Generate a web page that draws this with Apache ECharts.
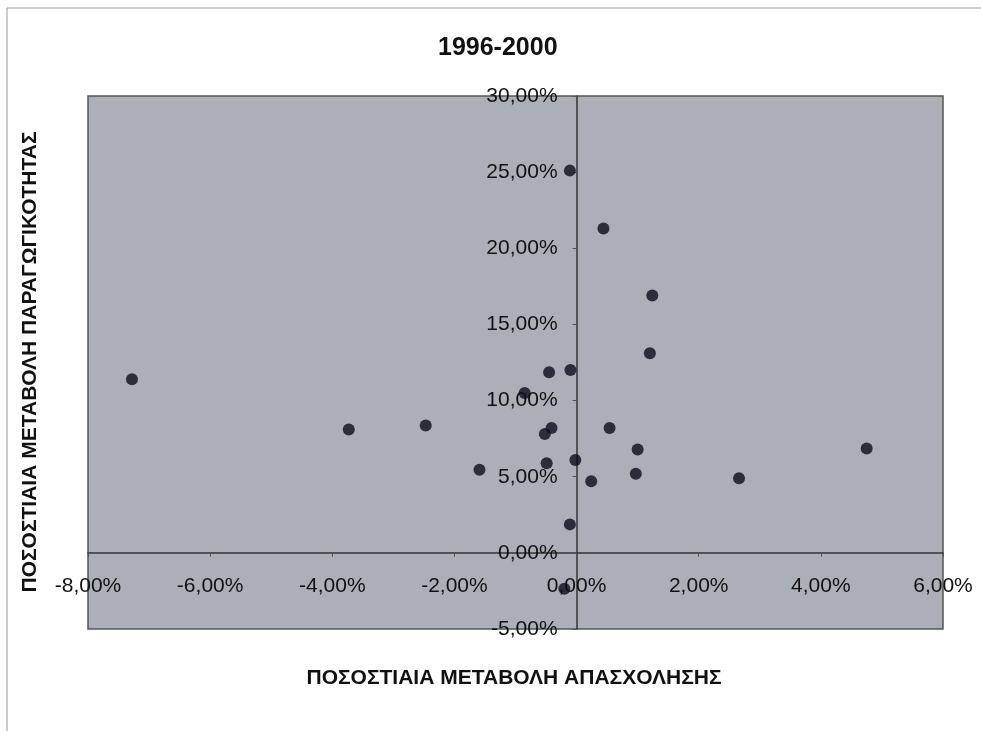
<!DOCTYPE html>
<html>
<head>
<meta charset="utf-8">
<script src="https://cdn.jsdelivr.net/npm/echarts@6/dist/echarts.min.js"></script>
<style>
  html, body { margin: 0; padding: 0; background: #fff; }
  #main { width: 981px; height: 731px; }
</style>
</head>
<body>
<div id="main"></div>
<script>
// ποσοστιαία μεταβολή απασχόλησης (%), x
var employmentChange = [
  -7.28, -3.73, -2.47, -1.59, -0.85, -0.45, -0.10, -0.41, -0.52, -0.49, -0.02, -0.11,
  -0.20, -0.11, 0.44, 1.24, 1.20, 0.54, 1.00, 0.97, 0.24, 2.66, 4.75
];
// ποσοστιαία μεταβολή παραγωγικότητας (%), y
var productivityChange = [
  11.4, 8.1, 8.36, 5.46, 10.5, 11.86, 12.0, 8.2, 7.8, 5.88, 6.1, 1.87,
  -2.36, 25.1, 21.3, 16.9, 13.1, 8.2, 6.78, 5.2, 4.7, 4.9, 6.86
];
var xTicks = { min: -8, max: 6, step: 2 };
var yTicks = { min: -5, max: 30, step: 5 };
var titleText = '1996-2000';
var xTitle = 'ΠΟΣΟΣΤΙΑΙΑ ΜΕΤΑΒΟΛΗ ΑΠΑΣΧΟΛΗΣΗΣ';
var yTitle = 'ΠΟΣΟΣΤΙΑΙΑ ΜΕΤΑΒΟΛΗ ΠΑΡΑΓΩΓΙΚΟΤΗΤΑΣ';

var points = employmentChange.map(function (x, i) {
  return [x, productivityChange[i]];
});

function pct(v) {
  return v.toFixed(2).replace('.', ',') + '%';
}

var myChart = echarts.init(document.getElementById('main'));
var fontFamily = 'Arial, "Liberation Sans", sans-serif';

// plot box in pixels
var gridLeft = 88, gridTop = 96, gridW = 855, gridH = 533;
// where the zero lines sit inside the box
var zeroX = gridLeft + gridW * (0 - xTicks.min) / (xTicks.max - xTicks.min);
var zeroY = gridTop + gridH * (yTicks.max - 0) / (yTicks.max - yTicks.min);

var option = {
  backgroundColor: '#fff',
  animation: false,
  title: {
    text: titleText,
    left: 433,
    top: 31,
    textStyle: { fontFamily: fontFamily, fontSize: 25, fontWeight: 'bold', color: '#111' }
  },
  graphic: [
    { type: 'line', shape: { x1: 7, y1: 8, x2: 981, y2: 8 }, style: { stroke: '#999', lineWidth: 1 } },
    { type: 'line', shape: { x1: 7, y1: 8, x2: 7, y2: 731 }, style: { stroke: '#999', lineWidth: 1 } },
    {
      type: 'text', x: 514, y: 678,
      style: {
        text: xTitle, fontFamily: fontFamily, fontSize: 21, fontWeight: 'bold', fill: '#111',
        align: 'center', verticalAlign: 'middle'
      }
    },
    {
      type: 'text', x: 30, y: 362, rotation: Math.PI / 2,
      style: {
        text: yTitle, fontFamily: fontFamily, fontSize: 21, fontWeight: 'bold', fill: '#111',
        align: 'center', verticalAlign: 'middle'
      }
    }
  ],
  grid: {
    left: gridLeft,
    top: gridTop,
    width: gridW,
    height: gridH,
    containLabel: false,
    outerBoundsMode: 'none',
    show: true,
    backgroundColor: '#abb0b8',
    borderColor: '#555',
    borderWidth: 1.5
  },
  xAxis: {
    type: 'value',
    min: xTicks.min,
    max: xTicks.max,
    interval: xTicks.step,
    position: 'bottom',
    offset: -(gridTop + gridH - zeroY),
    axisLine: { onZero: false, lineStyle: { color: '#333', width: 1.5 } },
    axisTick: { show: true, length: 4, lineStyle: { color: '#555' } },
    axisLabel: {
      margin: 23,
      showMinLabel: true,
      showMaxLabel: true,
      hideOverlap: false,
      fontFamily: fontFamily,
      fontSize: 21,
      color: '#111',
      formatter: pct
    },
    splitLine: { show: false }
  },
  yAxis: {
    type: 'value',
    min: yTicks.min,
    max: yTicks.max,
    interval: yTicks.step,
    position: 'left',
    offset: -(zeroX - gridLeft),
    axisLine: { onZero: false, lineStyle: { color: '#333', width: 1.5 } },
    axisTick: { show: true, length: 4, lineStyle: { color: '#555' } },
    axisLabel: {
      margin: 19,
      showMinLabel: true,
      showMaxLabel: true,
      hideOverlap: false,
      fontFamily: fontFamily,
      fontSize: 21,
      color: '#111',
      formatter: pct
    },
    splitLine: { show: false }
  },
  series: [
    {
      type: 'scatter',
      data: points,
      symbol: 'circle',
      symbolSize: 12,
      itemStyle: { color: '#0a0e1c' }
    }
  ]
};

myChart.setOption(option);
</script>
</body>
</html>
